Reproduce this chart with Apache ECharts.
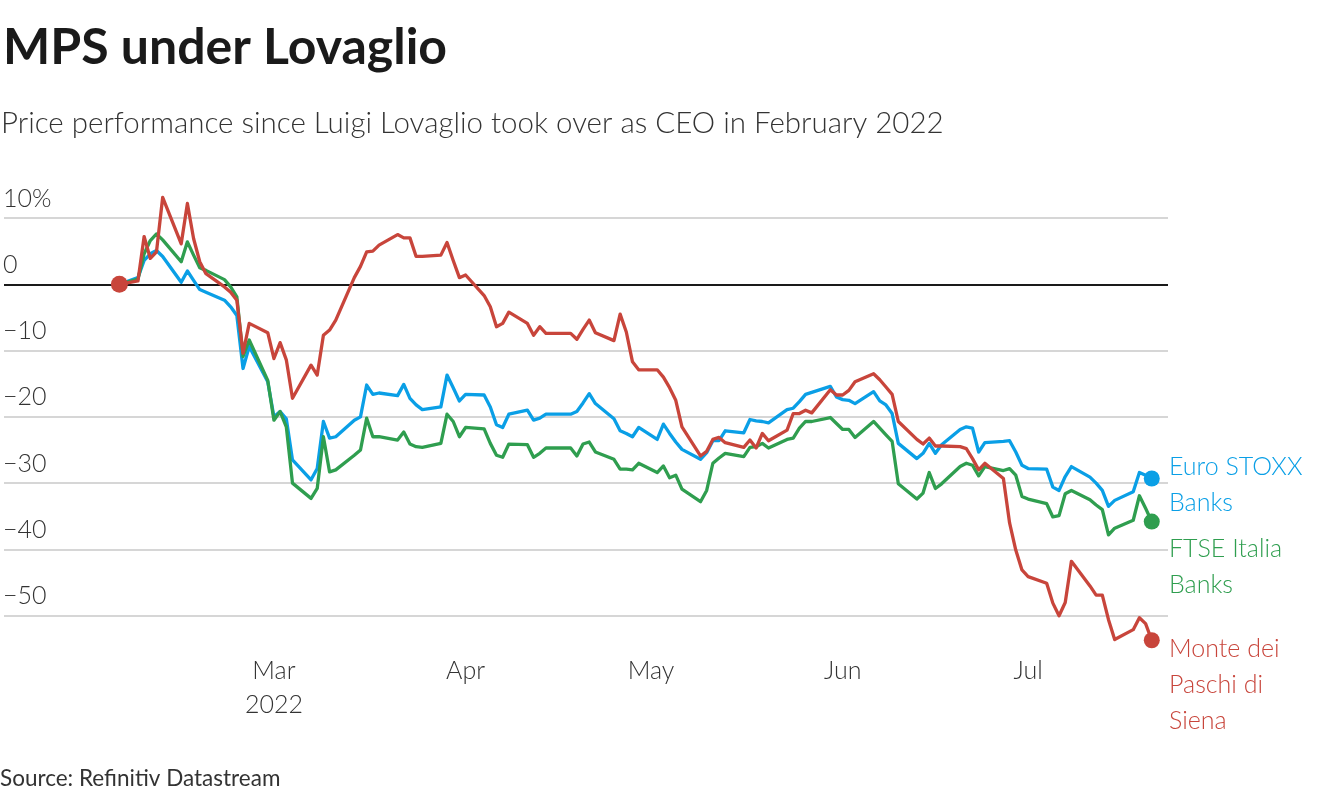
<!DOCTYPE html>
<html>
<head>
<meta charset="utf-8">
<script src="https://cdn.jsdelivr.net/npm/echarts@6/dist/echarts.min.js"></script>
<style>
html,body{margin:0;padding:0;background:#fff;}
#chart{width:1320px;height:800px;}
</style>
</head>
<body>
<div id="chart"></div>
<script>
// Trading days (Datastream fills holidays with previous value)
const dates = [
  '2022-02-04','2022-02-07','2022-02-08','2022-02-09','2022-02-10','2022-02-11','2022-02-14','2022-02-15','2022-02-16','2022-02-17','2022-02-18','2022-02-21','2022-02-22','2022-02-23','2022-02-24','2022-02-25','2022-02-28',
  '2022-03-01','2022-03-02','2022-03-03','2022-03-04','2022-03-07','2022-03-08','2022-03-09','2022-03-10','2022-03-11','2022-03-14','2022-03-15','2022-03-16','2022-03-17','2022-03-18','2022-03-21','2022-03-22','2022-03-23','2022-03-24','2022-03-25','2022-03-28','2022-03-29','2022-03-30','2022-03-31',
  '2022-04-01','2022-04-04','2022-04-05','2022-04-06','2022-04-07','2022-04-08','2022-04-11','2022-04-12','2022-04-13','2022-04-14','2022-04-15','2022-04-18','2022-04-19','2022-04-20','2022-04-21','2022-04-22','2022-04-25','2022-04-26','2022-04-27','2022-04-28','2022-04-29',
  '2022-05-02','2022-05-03','2022-05-04','2022-05-05','2022-05-06','2022-05-09','2022-05-10','2022-05-11','2022-05-12','2022-05-13','2022-05-16','2022-05-17','2022-05-18','2022-05-19','2022-05-20','2022-05-23','2022-05-24','2022-05-25','2022-05-26','2022-05-27','2022-05-30','2022-05-31',
  '2022-06-01','2022-06-02','2022-06-03','2022-06-06','2022-06-07','2022-06-08','2022-06-09','2022-06-10','2022-06-13','2022-06-14','2022-06-15','2022-06-16','2022-06-17','2022-06-20','2022-06-21','2022-06-22','2022-06-23','2022-06-24','2022-06-27','2022-06-28','2022-06-29','2022-06-30',
  '2022-07-01','2022-07-04','2022-07-05','2022-07-06','2022-07-07','2022-07-08','2022-07-11','2022-07-12','2022-07-13','2022-07-14','2022-07-15','2022-07-18','2022-07-19','2022-07-20','2022-07-21'
];

const euroStoxxBanks = [
  0, 1.0, 3.6, 4.6, 5.1, 4.2, 0.3, 2.0, 0.6, -0.8, -1.2, -2.4, -3.4, -4.7, -12.7, -9.4, -14.7,
  -20.0, -19.2, -20.3, -26.5, -29.5, -27.8, -20.7, -23.2, -23.0, -20.5, -20.0, -15.2, -16.6, -16.4, -16.8, -15.1, -17.2, -18.2, -18.9, -18.5, -13.7, -15.6, -17.6,
  -16.6, -16.7, -18.5, -21.2, -21.6, -19.6, -19.0, -20.5, -20.2, -19.6, -19.6, -19.6, -19.2, -17.9, -16.5, -18.0, -20.3, -22.1, -22.5, -23.0, -21.6,
  -23.4, -21.1, -22.5, -23.8, -24.9, -26.4, -25.4, -23.6, -23.6, -22.1, -22.4, -20.4, -20.6, -20.7, -20.9, -18.9, -18.7, -17.7, -16.6, -16.3, -15.4, -17.0,
  -17.4, -17.5, -18.0, -16.2, -17.6, -18.2, -19.5, -24.0, -26.3, -25.5, -24.0, -25.5, -24.2, -21.9, -21.5, -21.7, -25.3, -23.9, -23.7, -23.6, -25.3, -27.3,
  -27.8, -27.9, -30.6, -31.1, -29.0, -27.5, -29.1, -30.0, -31.1, -33.5, -32.6, -31.3, -28.4, -28.8, -29.3
];

const ftseItaliaBanks = [
  0, 0.8, 4.6, 6.6, 7.6, 6.7, 3.4, 6.4, 4.4, 2.5, 2.1, 0.7, -0.4, -1.9, -10.9, -8.4, -14.5,
  -20.5, -19.2, -21.5, -30.0, -32.3, -30.8, -23.0, -28.3, -28.0, -25.8, -25.0, -20.2, -23.0, -23.0, -23.5, -22.3, -24.1, -24.5, -24.6, -24.0, -19.6, -20.7, -23.0,
  -21.6, -21.8, -24.0, -25.8, -26.1, -24.1, -24.2, -26.1, -25.5, -24.7, -24.7, -24.7, -25.9, -24.1, -23.8, -25.3, -26.4, -27.9, -27.9, -28.0, -27.0,
  -28.4, -27.4, -29.2, -28.8, -30.9, -32.8, -31.1, -27.0, -26.2, -25.5, -26.0, -24.6, -24.5, -24.0, -24.7, -23.4, -23.2, -21.7, -20.7, -20.7, -20.1, -21.0,
  -21.9, -21.9, -23.1, -20.7, -21.7, -22.7, -23.7, -30.1, -32.4, -31.5, -28.4, -30.8, -30.1, -27.5, -27.0, -27.3, -28.9, -27.5, -28.1, -27.8, -28.8, -32.0,
  -32.4, -33.1, -35.1, -34.9, -31.6, -31.1, -32.5, -33.3, -34.0, -37.8, -36.8, -35.6, -31.9, -33.8, -35.8
];

const monteDeiPaschi = [
  0, 0.5, 7.2, 3.9, 4.9, 13.1, 6.1, 12.2, 6.9, 3.4, 1.6, -0.4, -1.2, -2.4, -10.4, -5.9, -7.3,
  -11.2, -8.8, -11.4, -17.2, -12.2, -13.7, -7.7, -6.9, -5.4, 1.0, 2.7, 4.9, 5.0, 5.9, 7.5, 7.0, 7.0, 4.2, 4.2, 4.4, 6.3, 3.6, 1.0,
  1.4, -1.7, -3.4, -6.4, -5.9, -4.2, -5.9, -7.7, -6.4, -7.4, -7.4, -7.4, -8.3, -6.8, -5.4, -7.3, -8.5, -4.5, -7.2, -11.7, -12.9,
  -12.9, -14.0, -15.6, -17.5, -21.5, -25.9, -25.2, -23.4, -23.1, -23.9, -24.6, -23.5, -24.7, -22.5, -23.6, -22.0, -19.5, -19.5, -19.0, -19.4, -15.9, -16.7,
  -16.7, -16.0, -14.7, -13.5, -14.4, -15.5, -16.6, -20.7, -23.4, -24.1, -23.2, -24.4, -24.4, -24.5, -24.8, -26.3, -28.0, -27.0, -29.3, -36.0, -40.1, -43.1,
  -44.1, -45.1, -48.1, -50.0, -48.0, -41.8, -45.5, -46.9, -46.9, -50.6, -53.6, -52.1, -50.3, -51.2, -53.7
];

const seriesNames = ['Euro STOXX\nBanks', 'FTSE Italia\nBanks', 'Monte dei\nPaschi di\nSiena'];
const monthLabels = ['Jan','Feb','Mar','Apr','May','Jun','Jul','Aug'];
const yTicks = [-60, -50, -40, -30, -20, -10, 0, 10];

const COLORS = ['#0a9fe6', '#2f9e4f', '#c8453b'];
const FONT = 'Lato, "Noto Sans", sans-serif';

const allVals = [euroStoxxBanks, ftseItaliaBanks, monteDeiPaschi];
const pairs = v => dates.map((d, i) => [d, v[i]]);
const last = arr => arr[arr.length - 1];

const chart = echarts.init(document.getElementById('chart'), null, {renderer: 'canvas'});

const lineSeries = allVals.map((vals, k) => ({
  type: 'line',
  name: seriesNames[k],
  data: pairs(vals),
  showSymbol: false,
  symbol: 'none',
  smooth: false,
  clip: false,
  lineStyle: {color: COLORS[k], width: 3.3, join: 'round', cap: 'round'},
  itemStyle: {color: COLORS[k]},
  silent: true,
  z: 3 + k,
  markLine: k === 0 ? {
    silent: true,
    symbol: 'none',
    label: {show: false},
    lineStyle: {color: '#1a1a1a', width: 2, type: 'solid'},
    data: [{yAxis: 0}],
    z: 2
  } : undefined
}));

const dotSeries = allVals.map((vals, k) => ({
  type: 'scatter',
  data: [[last(dates), last(vals)]],
  symbol: 'circle',
  symbolSize: 16,
  clip: false,
  itemStyle: {color: COLORS[k], opacity: 1},
  silent: true,
  z: 10
}));
dotSeries.push({
  type: 'scatter',
  data: [[dates[0], monteDeiPaschi[0]]],
  symbol: 'circle',
  symbolSize: 17,
  clip: false,
  itemStyle: {color: COLORS[2], opacity: 1},
  silent: true,
  z: 10
});

const labelTops = [449, 531, 631];

const option = {
  animation: false,
  backgroundColor: '#ffffff',
  textStyle: {fontFamily: FONT},
  title: [
    {text: 'MPS under Lovaglio', left: -2, top: 18,
     textStyle: {fontFamily: FONT, fontSize: 50, fontWeight: 'bold', color: '#1a1a1a'}},
    {text: 'Price performance since Luigi Lovaglio took over as CEO in February 2022', left: -4, top: 103,
     textStyle: {fontFamily: FONT, fontSize: 29.5, fontWeight: 300, color: '#333333'}}
  ],
  grid: {left: 0, right: 152, top: 218, bottom: 118, containLabel: false},
  xAxis: {
    type: 'time',
    min: new Date(2022, 0, 16, 8).getTime(),
    max: new Date(2022, 6, 23, 15).getTime(),
    splitNumber: 6,
    minInterval: 28 * 86400000,
    axisLine: {show: false},
    axisTick: {show: false},
    splitLine: {show: false},
    axisLabel: {
      showMinLabel: false,
      showMaxLabel: false,
      margin: -28,
      fontFamily: FONT,
      fontSize: 25,
      fontWeight: 300,
      color: '#333333',
      lineHeight: 34,
      formatter: function (value) {
        const d = new Date(value);
        if (d.getDate() !== 1) return '';
        const m = d.getMonth();
        if (m < 2) return '';
        return m === 2 ? monthLabels[m] + '\n' + d.getFullYear() : monthLabels[m];
      }
    }
  },
  yAxis: {
    type: 'value',
    min: yTicks[0],
    max: yTicks[yTicks.length - 1],
    interval: 10,
    axisLine: {show: false},
    axisTick: {show: false},
    splitLine: {
      show: true,
      lineStyle: {
        color: yTicks.map(t => (t === yTicks[0] || t === 0) ? 'rgba(0,0,0,0)' : '#c8c8c8'),
        width: 1.5
      }
    },
    axisLabel: {
      inside: true,
      margin: -1,
      align: 'left',
      verticalAlign: 'bottom',
      padding: [0, 0, 7, 0],
      fontFamily: FONT,
      fontSize: 25,
      fontWeight: 300,
      color: '#333333',
      formatter: function (v) {
        if (v === yTicks[0]) return '';
        if (v === yTicks[yTicks.length - 1]) return v + '%';
        if (v < 0) return '\u2212' + Math.abs(v);
        return String(v);
      }
    }
  },
  graphic: [
    ...seriesNames.map((name, k) => ({
      type: 'text', left: 1169, top: labelTops[k], silent: true,
      style: {text: name, fill: COLORS[k], font: '300 25px ' + FONT, lineHeight: 36}
    })),
    {type: 'text', left: 0, top: 767, silent: true,
     style: {text: 'Source: Refinitiv Datastream', fill: '#333333', font: '22.5px ' + FONT}}
  ],
  series: [...lineSeries, ...dotSeries]
};

chart.setOption(option);
</script>
</body>
</html>
